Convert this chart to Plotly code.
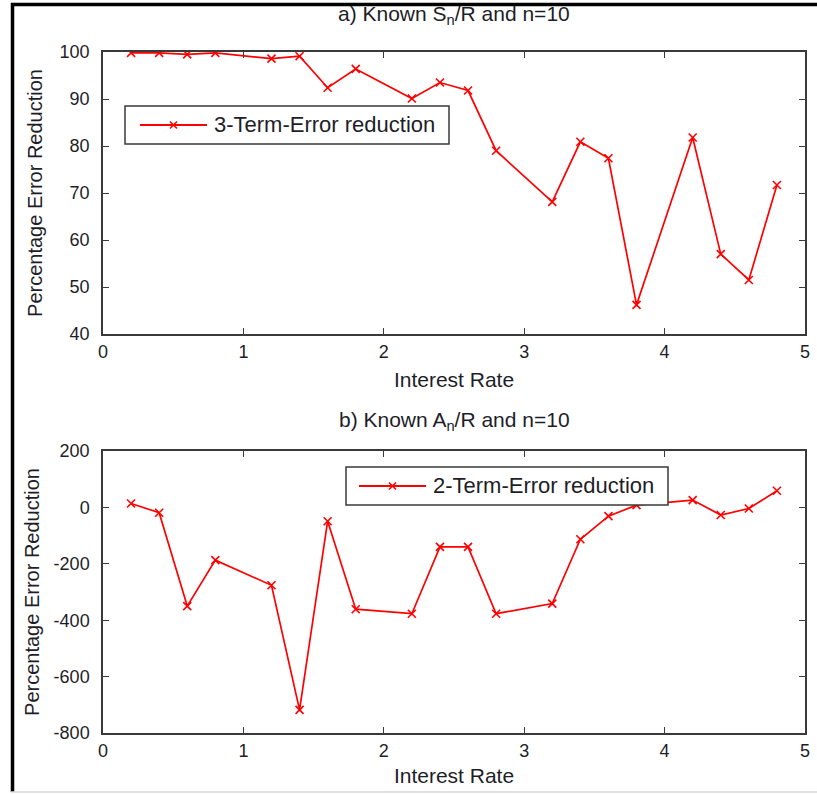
import plotly.graph_objects as go
from plotly.subplots import make_subplots

# ---- data ----
interest_rate = [0.2, 0.4, 0.6, 0.8, 1.2, 1.4, 1.6, 1.8, 2.2, 2.4,
                 2.6, 2.8, 3.2, 3.4, 3.6, 3.8, 4.2, 4.4, 4.6, 4.8]
three_term_reduction = [99.8, 99.8, 99.5, 99.8, 98.6, 99.1, 92.4, 96.4, 90.1, 93.5,
                        91.8, 79.0, 68.1, 80.9, 77.4, 46.2, 81.8, 57.0, 51.5, 71.7]
two_term_reduction = [14, -19, -350, -187, -276, -718, -49, -361, -377, -140,
                      -140, -377, -341, -113, -31, 8, 26, -27, -4, 59]

x_ticks = [0, 1, 2, 3, 4, 5]
y_ticks_a = [40, 50, 60, 70, 80, 90, 100]
y_ticks_b = [-800, -600, -400, -200, 0, 200]

title_a = "a) Known S<sub>n</sub>/R and n=10"
title_b = "b) Known A<sub>n</sub>/R and n=10"
legend_a = "3-Term-Error reduction"
legend_b = "2-Term-Error reduction"
x_title = "Interest Rate"
y_title = "Percentage Error Reduction"

# ---- layout geometry (pixels) ----
W, H = 817, 794
ML, MR, MT, MB = 103, 12, 52, 61
PW = W - ML - MR
PH = H - MT - MB


def px(x):
    return (x - ML) / PW


def py(y):
    return 1 - (y - MT) / PH


RED = "#ff0000"
AX = "#3a3a3a"
TXT = "#1e1e28"
FONT = "Liberation Sans, Arial, sans-serif"

fig = make_subplots(rows=2, cols=1)

fig.add_trace(go.Scatter(x=interest_rate, y=three_term_reduction, mode="lines+markers",
                         name=legend_a, line=dict(color=RED, width=1.7),
                         marker=dict(symbol="x-thin", size=8, line=dict(color=RED, width=1.6)),
                         showlegend=False), row=1, col=1)
fig.add_trace(go.Scatter(x=interest_rate, y=two_term_reduction, mode="lines+markers",
                         name=legend_b, line=dict(color=RED, width=1.7),
                         marker=dict(symbol="x-thin", size=8, line=dict(color=RED, width=1.6)),
                         showlegend=False), row=2, col=1)

top_dom = [py(334), py(52)]
bot_dom = [py(733), py(451)]

axis_common = dict(showline=True, linecolor=AX, linewidth=1.5, mirror="ticks",
                   ticks="inside", ticklen=6, tickwidth=1.3, tickcolor=AX,
                   showgrid=False, zeroline=False, automargin=False,
                   tickfont=dict(family=FONT, size=18, color=TXT))

fig.update_xaxes(**axis_common, range=[0, 5], tickvals=x_ticks,
                 ticktext=[str(v) for v in x_ticks], ticklabelstandoff=1,
                 title=dict(text=x_title, font=dict(family=FONT, size=21, color=TXT), standoff=11))
fig.update_xaxes(title_standoff=8, row=2, col=1)
fig.update_yaxes(**axis_common, ticklabelstandoff=8,
                 title=dict(text=y_title, font=dict(family=FONT, size=20, color=TXT), standoff=12))
fig.update_yaxes(range=[40, 100], tickvals=y_ticks_a, ticktext=[str(v) for v in y_ticks_a],
                 domain=top_dom, row=1, col=1)
fig.update_yaxes(range=[-800, 200], tickvals=y_ticks_b,
                 ticktext=[str(v).replace("\u2212", "-") for v in y_ticks_b],
                 domain=bot_dom, title_standoff=9, row=2, col=1)

shapes = []
annotations = []

# outer frame (top and left thick black, bottom light gray)
shapes.append(dict(type="line", xref="paper", yref="paper", x0=px(11), x1=px(817),
                   y0=py(4.5), y1=py(4.5), line=dict(color="black", width=3.5)))
shapes.append(dict(type="line", xref="paper", yref="paper", x0=px(12.5), x1=px(12.5),
                   y0=py(3), y1=py(792), line=dict(color="black", width=3.5)))
shapes.append(dict(type="line", xref="paper", yref="paper", x0=px(11), x1=px(817),
                   y0=py(792), y1=py(792), line=dict(color="#d8d8d8", width=1.5)))


def add_legend(x0, x1, y0, y1, lx0, lx1, tx, label):
    yc = (y0 + y1) / 2
    shapes.append(dict(type="rect", xref="paper", yref="paper", x0=px(x0), x1=px(x1),
                       y0=py(y1), y1=py(y0), line=dict(color=AX, width=1.5),
                       fillcolor="white", layer="above"))
    shapes.append(dict(type="line", xref="paper", yref="paper", x0=px(lx0), x1=px(lx1),
                       y0=py(yc), y1=py(yc), line=dict(color=RED, width=2.2), layer="above"))
    mx = (lx0 + lx1) / 2
    s = 3.5
    for dx in (-s, s):
        shapes.append(dict(type="line", xref="paper", yref="paper",
                           x0=px(mx - s), x1=px(mx + s),
                           y0=py(yc - dx), y1=py(yc + dx),
                           line=dict(color=RED, width=1.6), layer="above"))
    annotations.append(dict(xref="paper", yref="paper", x=px(tx), y=py(yc), text=label,
                            showarrow=False, xanchor="left", yanchor="middle",
                            font=dict(family=FONT, size=22, color=TXT)))


add_legend(125, 449, 106, 144, 140, 207, 212, legend_a)
add_legend(346, 668, 467, 505, 359, 426, 431, legend_b)

annotations.append(dict(xref="paper", yref="paper", x=px(454), y=py(15), text=title_a,
                        showarrow=False, xanchor="center", yanchor="middle",
                        font=dict(family=FONT, size=21, color=TXT)))
annotations.append(dict(xref="paper", yref="paper", x=px(454), y=py(421), text=title_b,
                        showarrow=False, xanchor="center", yanchor="middle",
                        font=dict(family=FONT, size=21, color=TXT)))

fig.update_layout(width=W, height=H, margin=dict(l=ML, r=MR, t=MT, b=MB, autoexpand=False),
                  paper_bgcolor="white", plot_bgcolor="white",
                  shapes=shapes, annotations=annotations, showlegend=False)

# remove the page's default body margin so the figure sits at the window's corner
fig.write_html("out.html", config={"displayModeBar": False},
               post_script="document.body.style.margin='0';document.body.style.overflow='hidden';")
